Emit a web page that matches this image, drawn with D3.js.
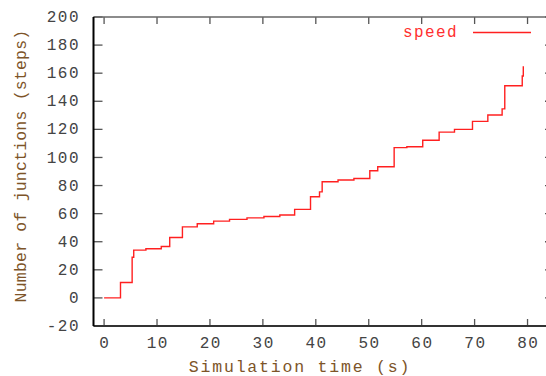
<!DOCTYPE html>
<html lang="en">
<head>
    <meta charset="UTF-8">
    <title>Number of junctions vs simulation time</title>
    <script src="https://d3js.org/d3.v7.min.js"></script>
    <style>
        body { margin: 0; background: #fff; }
        .tick-label {
            font-family: "Liberation Mono", "DejaVu Sans Mono", monospace;
            font-size: 16px;
            letter-spacing: 1.5px;
            fill: #444;
        }
        .axis-title {
            font-family: "Liberation Mono", "DejaVu Sans Mono", monospace;
            font-size: 16.5px;
            fill: #7d5428;
        }
        .legend-text {
            font-family: "Liberation Mono", "DejaVu Sans Mono", monospace;
            font-size: 16px;
            letter-spacing: 1.4px;
            fill: #ff3030;
        }
    </style>
</head>
<body>
<svg width="546" height="376"></svg>
<script>
    // step data (time in s, junctions)
    const times  = [0, 3.1, 5.3, 5.6, 7.9, 10.8, 12.4, 14.8, 17.6, 20.7, 23.7, 27, 30.2, 33.2, 36, 39,
                    40.7, 41.2, 44.2, 47.2, 50.2, 51.7, 54.8, 57.2, 60.2, 63.3, 66.2, 69.6, 72.5, 75.2,
                    75.7, 79, 79.2];
    const speed  = [0, 11, 29, 34, 35, 36.6, 43, 50.6, 52.8, 54.7, 55.9, 57, 58, 59, 63, 72,
                    75.5, 82.7, 84, 85, 90.5, 93.4, 107, 107.6, 112.3, 118, 120, 125.7, 130.2, 134.6,
                    151, 158, 165];
    const xTicks = [0, 10, 20, 30, 40, 50, 60, 70, 80];
    const yTicks = [-20, 0, 20, 40, 60, 80, 100, 120, 140, 160, 180, 200];

    const svg = d3.select("svg");

    const pLeft = 93.5, pRight = 554, pTop = 17, pBottom = 326;

    const x = d3.scaleLinear().domain([-2, 85]).range([pLeft, pRight]);
    const y = d3.scaleLinear().domain([-20, 200]).range([pBottom, pTop]);

    // ticks (gnuplot style, inward on all four sides)
    const tickG = svg.append("g").attr("stroke", "#555").attr("stroke-width", 1.3);
    xTicks.forEach(t => {
        tickG.append("line").attr("x1", x(t)).attr("x2", x(t)).attr("y1", pBottom).attr("y2", pBottom - 7);
        tickG.append("line").attr("x1", x(t)).attr("x2", x(t)).attr("y1", pTop).attr("y2", pTop + 7);
    });
    yTicks.forEach(t => {
        tickG.append("line").attr("x1", pLeft).attr("x2", pLeft + 9).attr("y1", y(t)).attr("y2", y(t));
        tickG.append("line").attr("x1", pRight).attr("x2", pRight - 9).attr("y1", y(t)).attr("y2", y(t));
    });

    // border
    svg.append("line").attr("x1", pLeft).attr("x2", pRight).attr("y1", pTop).attr("y2", pTop)
        .attr("stroke", "#666").attr("stroke-width", 1.4);
    svg.append("line").attr("x1", pLeft).attr("x2", pRight).attr("y1", pBottom).attr("y2", pBottom)
        .attr("stroke", "#333").attr("stroke-width", 1.8);
    svg.append("line").attr("x1", pLeft).attr("x2", pLeft).attr("y1", pTop).attr("y2", pBottom)
        .attr("stroke", "#000").attr("stroke-width", 2);
    svg.append("line").attr("x1", pRight).attr("x2", pRight).attr("y1", pTop).attr("y2", pBottom)
        .attr("stroke", "#666").attr("stroke-width", 1.4);

    // tick labels
    svg.selectAll(".ylab").data(yTicks).enter().append("text")
        .attr("class", "tick-label")
        .attr("x", 80)
        .attr("y", d => y(d))
        .attr("dy", "0.32em")
        .attr("text-anchor", "end")
        .text(d => d);

    svg.selectAll(".xlab").data(xTicks).enter().append("text")
        .attr("class", "tick-label")
        .attr("x", d => x(d) + 0.8)
        .attr("y", 348)
        .attr("text-anchor", "middle")
        .text(d => d);

    // axis titles
    svg.append("text")
        .attr("class", "axis-title")
        .attr("x", 300)
        .attr("y", 372)
        .attr("text-anchor", "middle")
        .attr("letter-spacing", "1.8px")
        .text("Simulation time (s)");

    svg.append("text")
        .attr("class", "axis-title")
        .attr("transform", "translate(26,166) rotate(-90)")
        .attr("text-anchor", "middle")
        .attr("letter-spacing", "0.2px")
        .text("Number of junctions (steps)");

    // the step line
    const pts = times.map((t, i) => [t, speed[i]]);
    const line = d3.line()
        .x(d => x(d[0]))
        .y(d => y(d[1]))
        .curve(d3.curveStepAfter);

    svg.append("path")
        .datum(pts)
        .attr("fill", "none")
        .attr("stroke", "#ff2020")
        .attr("stroke-width", 1.4)
        .attr("d", line);

    // legend
    svg.append("text")
        .attr("class", "legend-text")
        .attr("x", 458)
        .attr("y", 37)
        .attr("text-anchor", "end")
        .text("speed");
    svg.append("line")
        .attr("x1", 473).attr("x2", 531).attr("y1", 32.5).attr("y2", 32.5)
        .attr("stroke", "#ff2020").attr("stroke-width", 1.4);
</script>
</body>
</html>
